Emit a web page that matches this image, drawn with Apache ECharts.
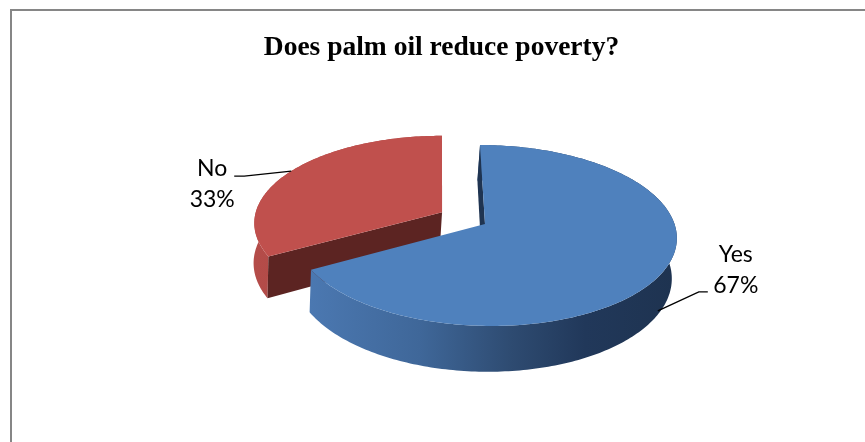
<!DOCTYPE html>
<html>
<head>
<meta charset="utf-8">
<title>Does palm oil reduce poverty?</title>
<script src="https://cdn.jsdelivr.net/npm/echarts@6/dist/echarts.min.js"></script>
<style>
  html, body { margin: 0; padding: 0; background: #ffffff; }
  #chart { width: 865px; height: 442px; }
</style>
</head>
<body>
<div id="chart"></div>
<script>
// ---- data ----
const categories = ['Yes', 'No'];
const shares = [67, 33];
const chartTitle = 'Does palm oil reduce poverty?';

// ---- 3-D pie look ----
const PIE = {
  cx: 485, cy: 224,      // centre of the top face
  rx: 189.5, ry: 89,     // radii of the top ellipse
  persp: 0.127,          // near rim drawn larger than far rim
  vanishX: 441,          // horizontal vanishing point of the top face
  depth: 40,             // thickness of the disc
  dropVanishX: 183,      // lower rim recedes toward this x
  dropShrink: 0.00025
};
const EXPLODE = { No: 0.263 };
const TOP_COLORS = { Yes: '#4F81BD', No: '#C0504D' };
const CUT_COLORS = { Yes: '#1F3451', No: '#5C2422' };
const WALL_STOPS = {
  Yes: [['#4B78B1', 0], ['#3F6799', 0.3], ['#2E4B71', 0.55], ['#21385A', 0.75], ['#1E3350', 1]],
  No:  [['#B44C49', 0], ['#A94542', 1]]
};
const LABEL_LAYOUT = {
  Yes: { drop: 0.9, elbow: [41, -19], tail: 9,   textDx: 28,  textDy: -22 },
  No:  { drop: 0,   elbow: [-47, 5],  tail: -10, textDx: -22, textDy: 7.5 }
};
const LABEL_FONT = '23px Lato';

const total = shares.reduce((a, b) => a + b, 0);
const DEG = Math.PI / 180;

// map a point of the disc (u right, v toward viewer, drop downward in px) to the screen
function project(u, v, drop) {
  const s = 1 / (1 - PIE.persp * v);
  let x = PIE.vanishX + (PIE.cx - PIE.vanishX + PIE.rx * u) * s;
  const d = drop * s;
  x = PIE.dropVanishX + (x - PIE.dropVanishX) * (1 - PIE.dropShrink * d);
  const y = PIE.cy + PIE.ry * v * s + d;
  return [x, y];
}

function sliceGeometry(i) {
  let start = 0;
  for (let j = 0; j < i; j++) start += shares[j] / total * 360;
  const end = start + shares[i] / total * 360;
  const mid = (start + end) / 2;
  const e = EXPLODE[categories[i]] || 0;
  const ou = Math.sin(mid * DEG) * e;
  const ov = -Math.cos(mid * DEG) * e;
  return {
    start, end, mid, ov,
    rim: (t, d) => project(Math.sin(t * DEG) + ou, -Math.cos(t * DEG) + ov, d),
    apex: d => project(ou, ov, d)
  };
}

// far slices are painted first
const drawRank = (() => {
  const order = categories.map((c, i) => {
    const g = sliceGeometry(i);
    return { i, depth: -Math.cos(g.mid * DEG) + g.ov };
  }).sort((a, b) => a.depth - b.depth);
  const rank = [];
  order.forEach((o, r) => { rank[o.i] = r; });
  return rank;
})();

function signedArea(pts) {
  let s = 0;
  for (let k = 0; k < pts.length; k++) {
    const a = pts[k], b = pts[(k + 1) % pts.length];
    s += a[0] * b[1] - b[0] * a[1];
  }
  return s / 2;
}

function renderSlice(params, api) {
  const i = params.dataIndex;
  const name = categories[i];
  const value = api.value(0);
  const g = sliceGeometry(i);
  const D = PIE.depth;
  const base = drawRank[i] * 10;
  const steps = Math.max(2, Math.ceil(g.end - g.start));
  const topRim = [], botRim = [];
  for (let k = 0; k <= steps; k++) {
    const t = g.start + (g.end - g.start) * k / steps;
    topRim.push(g.rim(t, 0));
    botRim.push(g.rim(t, D));
  }
  const children = [];

  // outer wall
  const wallPts = topRim.concat(botRim.slice().reverse());
  const xs = wallPts.map(p => p[0]);
  const minX = Math.min.apply(null, xs), maxX = Math.max.apply(null, xs);
  children.push({
    type: 'polygon',
    shape: { points: wallPts },
    style: {
      fill: {
        type: 'linear', x: minX, y: 0, x2: maxX, y2: 0, global: true,
        colorStops: WALL_STOPS[name].map(s => ({ offset: s[1], color: s[0] }))
      }
    },
    z2: base + 1
  });

  // radial cut faces, only those turned toward the viewer
  [[g.start, true], [g.end, false]].forEach(([t, isStart]) => {
    const quad = [g.apex(0), g.rim(t, 0), g.rim(t, D), g.apex(D)];
    const a = signedArea(quad);
    if (isStart ? a < -1 : a > 1) {
      children.push({ type: 'polygon', shape: { points: quad }, style: { fill: CUT_COLORS[name] }, z2: base + 2 });
    }
  });

  // top face
  children.push({
    type: 'polygon',
    shape: { points: [g.apex(0)].concat(topRim) },
    style: { fill: TOP_COLORS[name] },
    z2: base + 3
  });

  // leader line and label
  const L = LABEL_LAYOUT[name];
  const anchor = g.rim(g.mid, D * L.drop);
  const elbow = [anchor[0] + L.elbow[0], anchor[1] + L.elbow[1]];
  const tailEnd = [elbow[0] + L.tail, elbow[1]];
  children.push({
    type: 'polyline',
    shape: { points: [anchor, elbow, tailEnd] },
    style: { stroke: '#000000', lineWidth: 1.4, fill: null },
    z2: 100
  });
  children.push({
    type: 'text',
    x: tailEnd[0] + L.textDx,
    y: tailEnd[1] + L.textDy,
    style: {
      text: name + '\n' + Math.round(value / total * 100) + '%',
      font: LABEL_FONT,
      lineHeight: 31,
      fill: '#000000',
      align: 'center',
      verticalAlign: 'middle'
    },
    z2: 101
  });

  return { type: 'group', children };
}

const chart = echarts.init(document.getElementById('chart'), null, { renderer: 'canvas' });
chart.setOption({
  animation: false,
  backgroundColor: '#ffffff',
  graphic: [
    { type: 'line', shape: { x1: 10, y1: 10, x2: 865, y2: 10 }, style: { stroke: '#868686', lineWidth: 2 }, silent: true },
    { type: 'line', shape: { x1: 11, y1: 9, x2: 11, y2: 442 }, style: { stroke: '#868686', lineWidth: 2 }, silent: true },
    {
      type: 'text', x: 441.5, y: 48, silent: true,
      style: {
        text: chartTitle,
        font: 'bold 27.5px "Liberation Serif", "Times New Roman", serif',
        fill: '#000000', align: 'center', verticalAlign: 'middle'
      }
    }
  ],
  series: [{
    type: 'custom',
    coordinateSystem: 'none',
    silent: true,
    renderItem: renderSlice,
    data: categories.map((c, i) => ({ name: c, value: [shares[i]] }))
  }]
});
</script>
</body>
</html>
